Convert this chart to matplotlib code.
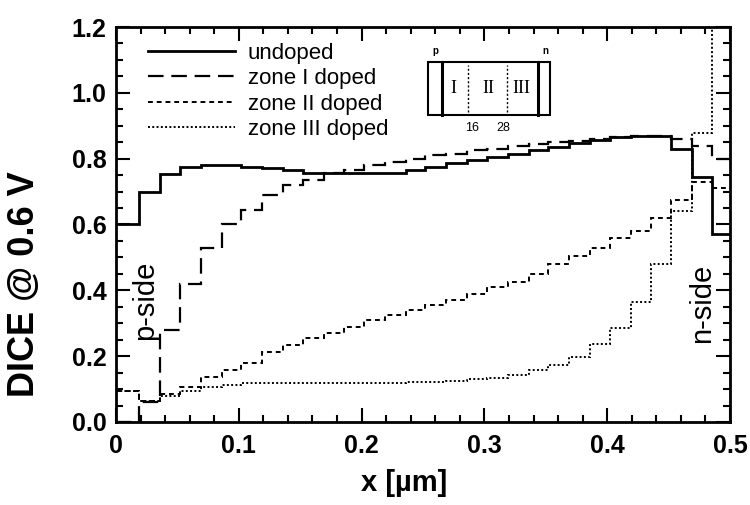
import matplotlib
matplotlib.use('Agg')
import matplotlib.pyplot as plt
from matplotlib.patches import Rectangle
from matplotlib.ticker import MultipleLocator

plt.rcParams['font.family'] = ['Liberation Sans', 'DejaVu Sans']

# bin edges along the device [um]
x_edges = [0, 0.019, 0.036, 0.052, 0.069, 0.086, 0.102, 0.119, 0.136, 0.152,
           0.169, 0.186, 0.202, 0.219, 0.236, 0.252, 0.269, 0.286, 0.302, 0.319,
           0.336, 0.352, 0.369, 0.386, 0.402, 0.419, 0.436, 0.452, 0.469, 0.485, 0.5]

undoped = [0.60, 0.70, 0.754, 0.775, 0.78, 0.78, 0.776, 0.772, 0.765, 0.757,
           0.755, 0.755, 0.755, 0.757, 0.766, 0.775, 0.787, 0.796, 0.806, 0.815,
           0.827, 0.836, 0.848, 0.857, 0.866, 0.87, 0.87, 0.83, 0.745, 0.57]
zone1 = [0.0, 0.06, 0.28, 0.42, 0.53, 0.60, 0.645, 0.69, 0.72, 0.735,
         0.755, 0.766, 0.78, 0.79, 0.80, 0.81, 0.815, 0.825, 0.83, 0.84,
         0.845, 0.85, 0.855, 0.86, 0.865, 0.87, 0.87, 0.86, 0.84, 0.80]
zone2 = [0.095, 0.065, 0.085, 0.105, 0.137, 0.158, 0.18, 0.213, 0.235, 0.255,
         0.27, 0.29, 0.31, 0.325, 0.34, 0.355, 0.37, 0.39, 0.41, 0.425,
         0.45, 0.48, 0.505, 0.53, 0.56, 0.58, 0.62, 0.675, 0.73, 0.71]
zone3 = [0.095, 0.065, 0.08, 0.095, 0.105, 0.113, 0.118, 0.118, 0.118, 0.118,
         0.118, 0.118, 0.118, 0.118, 0.12, 0.122, 0.125, 0.13, 0.135, 0.143,
         0.158, 0.173, 0.198, 0.237, 0.286, 0.365, 0.48, 0.64, 0.878, 1.25]

labels = ['undoped', 'zone I doped', 'zone II doped', 'zone III doped']
styles = ['-', (0, (7, 3.5)), (0, (2.5, 2)), (0, (1, 1.2))]
widths = [2.0, 1.6, 1.4, 1.4]

xticks = [0, 0.1, 0.2, 0.3, 0.4, 0.5]
xticklabels = ['0', '0.1', '0.2', '0.3', '0.4', '0.5']
yticks = [0.0, 0.2, 0.4, 0.6, 0.8, 1.0, 1.2]
yticklabels = ['0.0', '0.2', '0.4', '0.6', '0.8', '1.0', '1.2']

fig = plt.figure(figsize=(7.5, 5.05), dpi=100)
ax = fig.add_axes([0.1547, 0.1644, 0.8186, 0.7821])

for vals, lab, ls, lw in zip([undoped, zone1, zone2, zone3], labels, styles, widths):
    ax.stairs(vals, x_edges, baseline=None, color='black', linestyle=ls,
              linewidth=lw, label=lab)

ax.set_xlim(0, 0.5)
ax.set_ylim(0, 1.2)
ax.set_xticks(xticks)
ax.set_xticklabels(xticklabels, fontweight='bold')
ax.set_yticks(yticks)
ax.set_yticklabels(yticklabels, fontweight='bold')
ax.xaxis.set_minor_locator(MultipleLocator(0.02))
ax.yaxis.set_minor_locator(MultipleLocator(0.05))
ax.tick_params(which='both', direction='in', top=True, right=True, width=1.5,
               labelsize=18)
ax.tick_params(axis='x', pad=9)
ax.tick_params(axis='y', pad=7)
ax.tick_params(which='major', length=10)
ax.tick_params(which='minor', length=5)
for s in ax.spines.values():
    s.set_linewidth(2)

ax.set_xlabel('x [µm]', fontsize=21, fontweight='bold')
ax.xaxis.set_label_coords(0.469, -0.118)
ax.set_ylabel('DICE @ 0.6 V', fontsize=26, fontweight='bold')
ax.yaxis.set_label_coords(-0.12, 0.35)

ax.legend(loc='upper left', bbox_to_anchor=(0.052, 0.96), frameon=False,
          fontsize=16, handlelength=3.9, handletextpad=0.6, labelspacing=0.2,
          borderpad=0, borderaxespad=0)

ax.text(0.0236, 0.37, 'p-side', rotation=90, fontsize=21, ha='center', va='center')
ax.text(0.4776, 0.359, 'n-side', rotation=90, fontsize=21, ha='center', va='center')

# device sketch (zones I, II, III)
tr = ax.transAxes
ax.add_patch(Rectangle((0.508, 0.777), 0.199, 0.134, fill=False, lw=1.5,
                       ec='black', transform=tr))
for xv in [0.531, 0.687]:
    ax.plot([xv, xv], [0.777, 0.911], color='black', lw=2.2, transform=tr)
for xv in [0.573, 0.637]:
    ax.plot([xv, xv], [0.785, 0.903], color='black', lw=1.0, ls=(0, (1.5, 1.5)),
            transform=tr)
for xv, t in zip([0.550, 0.606, 0.661], ['I', 'II', 'III']):
    ax.text(xv, 0.845, t, transform=tr, fontsize=13, ha='center', va='center',
            family='Liberation Serif')
for xv, t in zip([0.580, 0.630], ['16', '28']):
    ax.text(xv, 0.745, t, transform=tr, fontsize=9, ha='center', va='center')
for xv, t in zip([0.520, 0.699], ['p', 'n']):
    ax.text(xv, 0.94, t, transform=tr, fontsize=7, ha='center', va='center',
            fontweight='bold')

fig.savefig('out.png', dpi=100)
